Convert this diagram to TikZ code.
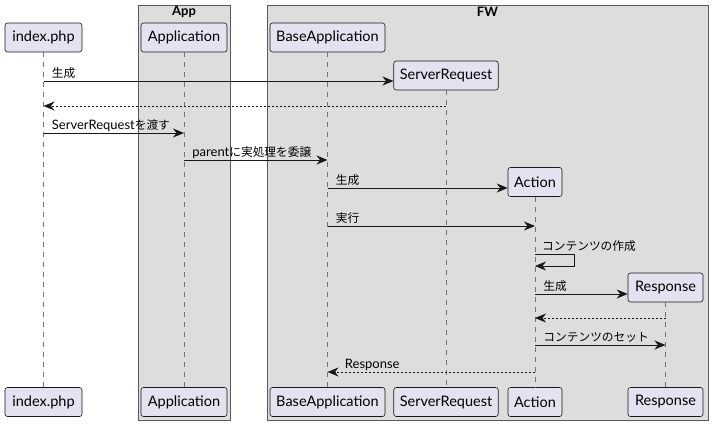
\documentclass[tikz,border=0pt]{standalone}
\usepackage{fontspec}
\setmainfont{Lato}
\newfontfamily\jpfont{Noto Sans CJK JP}[Scale=0.9]
\newcommand{\ja}[1]{{\jpfont #1}}
\usetikzlibrary{arrows.meta}
\definecolor{partfill}{HTML}{E2E2F0}
\definecolor{boxfill}{HTML}{DDDDDD}
\definecolor{ink}{HTML}{181818}

\begin{document}
\begin{tikzpicture}[
  x=1pt, y=-1pt,
  font=\fontsize{13}{15}\selectfont,
  part/.style={draw=ink, fill=partfill, rounded corners=2.5pt, minimum height=29pt,
    inner xsep=6pt, font=\fontsize{14.5}{16}\selectfont, line width=0.6pt},
  grp/.style={draw=black!65, fill=boxfill, line width=0.8pt},
  grptitle/.style={font=\fontsize{13}{15}\selectfont\bfseries, inner sep=0pt},
  life/.style={draw=ink!60, dash pattern=on 5pt off 5pt, line width=0.6pt},
  msg/.style={draw=ink, line width=0.9pt, -{Stealth[length=11pt,width=9pt,inset=3.5pt]}},
  ret/.style={msg, dash pattern=on 2pt off 2pt},
  lbl/.style={pos=0, anchor=base west, xshift=8pt, yshift=4pt, inner sep=0pt, text=black}
]
\useasboundingbox (0,0) rectangle (712,426);

% groups
\draw[grp] (138,5) rectangle (230,420);
\draw[grp] (267,5) rectangle (708,420);
\node[grptitle] (appttl) at (184,12) {App};
\node[grptitle] (fwttl)  at (487.5,12) {FW};

% participants
\node[part, minimum width=77pt]  (idxT)  at (43.5,37.5)  {index.php};
\node[part, minimum width=86pt]  (appT)  at (184,37.5)   {Application};
\node[part, minimum width=115pt] (baseT) at (327.5,37.5) {BaseApplication};
\node[part, minimum width=104pt] (srT)   at (446,75.5)   {ServerRequest};
\node[part, minimum width=54pt]  (actT)  at (535,182)    {Action};
\node[part, minimum width=75pt]  (resT)  at (665.5,287.5) {Response};

\node[part, minimum width=77pt]  (idxB)  at (43.5,402)  {index.php};
\node[part, minimum width=86pt]  (appB)  at (184,402)   {Application};
\node[part, minimum width=115pt] (baseB) at (327.5,402) {BaseApplication};
\node[part, minimum width=104pt] (srB)   at (446,402)   {ServerRequest};
\node[part, minimum width=54pt]  (actB)  at (535,402)   {Action};
\node[part, minimum width=75pt]  (resB)  at (665.5,402) {Response};

% lifelines
\draw[life] (idxT) -- (idxB);
\draw[life] (appT) -- (appB);
\draw[life] (baseT) -- (baseB);
\draw[life] (srT) -- (srB);
\draw[life] (actT) -- (actB);
\draw[life] (resT) -- (resB);

% messages
\draw[msg] (idxT |- 0,81) -- (srT.west |- 0,81) node[lbl] {\ja{生成}};
\draw[ret] (srT |- 0,106) -- (idxT |- 0,106);
\draw[msg] (idxT |- 0,133) -- (appT |- 0,133) node[lbl] {ServerRequest\ja{を渡す}};
\draw[msg] (appT |- 0,160) -- (baseT |- 0,160) node[lbl] {parent\ja{に実処理を委譲}};
\draw[msg] (baseT |- 0,188) -- (actT.west |- 0,188) node[lbl] {\ja{生成}};
\draw[msg] (baseT |- 0,226) -- (actT |- 0,226) node[lbl] {\ja{実行}};
\draw[msg] (actT |- 0,254) -- ++(39,0) -- ++(0,12) -- (actT |- 0,266);
\node[anchor=base west, inner sep=0pt] (selflbl) at (542,250) {\ja{コンテンツの作成}};
\draw[msg] (actT |- 0,294) -- (resT.west |- 0,294) node[lbl] {\ja{生成}};
\draw[ret] (resT |- 0,318) -- (actT |- 0,318);
\draw[msg] (actT |- 0,345) -- (resT |- 0,345) node[lbl] {\ja{コンテンツのセット}};
\draw[ret] (actT |- 0,372) -- (baseT |- 0,372) node[pos=1, anchor=base west, xshift=17pt, yshift=4pt, inner sep=0pt] {Response};
\end{tikzpicture}
\end{document}
